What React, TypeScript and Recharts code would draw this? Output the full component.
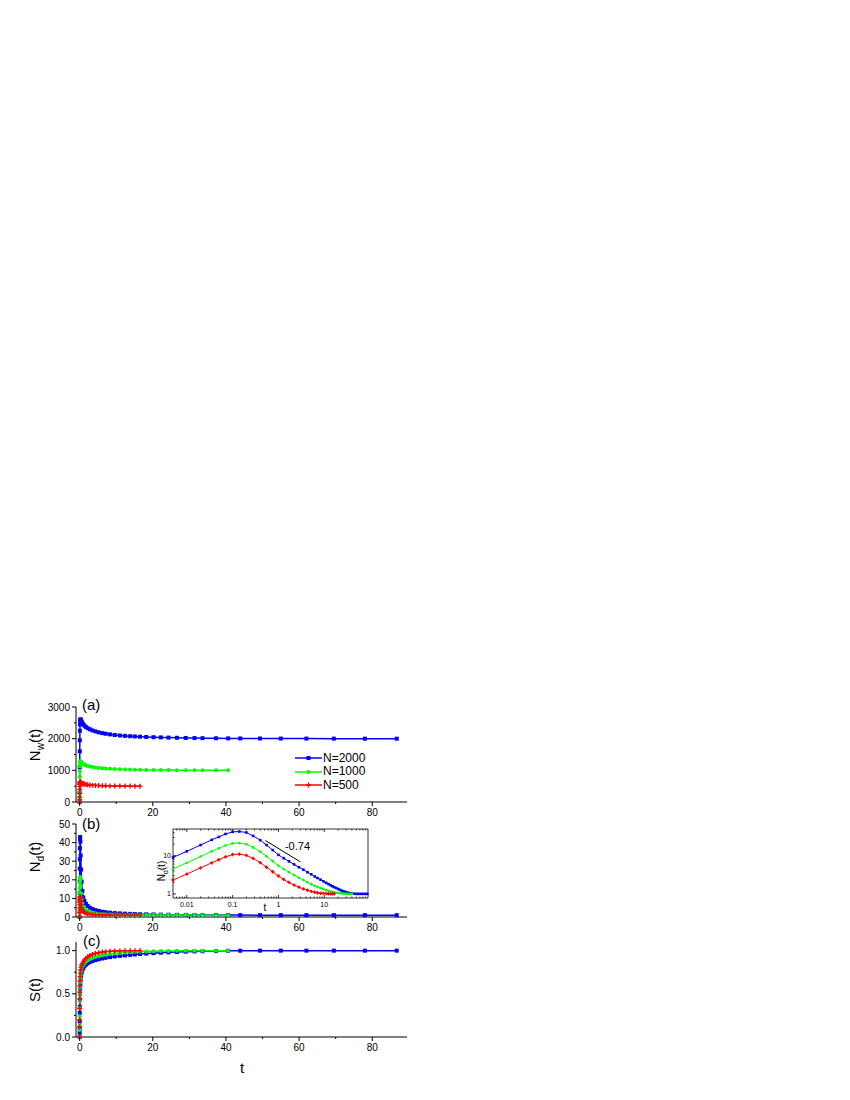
import React from "react";
import { Legend, Line, LineChart, ReferenceDot, ReferenceLine, XAxis, YAxis } from "recharts";

const FONT = "'Liberation Sans', Arial, sans-serif";

// shared sampling times
const T = [0, 0.005, 0.01, 0.02, 0.035, 0.05, 0.07, 0.1, 0.14, 0.2, 0.28, 0.4, 0.55, 0.75, 1, 1.3, 1.7, 2.2, 2.8, 3.5, 4.3, 5.2, 6.2, 7.1, 8.3, 9.6, 11, 12.4, 13.8, 15.1, 16.5, 18.2, 20.2, 22.2, 24.3, 26.6, 29, 31.4, 33.6, 37.3, 40.6, 43.9, 49.3, 55, 62, 69.5, 78, 86.7];

// (a) N_w(t)
const NW_2000 = [0, 300, 600, 1100, 1600, 1950, 2250, 2450, 2570, 2610, 2600, 2570, 2530, 2490, 2450, 2410, 2370, 2330, 2295, 2260, 2230, 2200, 2175, 2155, 2135, 2115, 2100, 2088, 2078, 2070, 2062, 2054, 2046, 2040, 2034, 2028, 2023, 2019, 2016, 2012, 2009, 2007, 2005, 2003, 2002, 2001, 2000, 2000];
const NW_1000 = [0, 150, 300, 550, 800, 980, 1120, 1220, 1275, 1290, 1280, 1260, 1240, 1220, 1200, 1180, 1160, 1140, 1122, 1105, 1090, 1077, 1066, 1058, 1050, 1042, 1035, 1030, 1025, 1021, 1018, 1014, 1011, 1009, 1007, 1005, 1004, 1003, 1002, 1001, 1000];
const NW_500 = [0, 75, 150, 275, 400, 490, 560, 605, 625, 630, 622, 610, 597, 585, 575, 565, 555, 546, 538, 531, 525, 520, 515, 512, 509, 506, 504, 503, 502, 501, 500];

// (b) N_d(t)
const ND_2000 = [0, 9, 13, 19, 26, 31, 37, 42, 43, 40.5, 33, 25.5, 19, 14, 10.5, 8.6, 7.1, 5.9, 5, 4.3, 3.7, 3.25, 2.85, 2.6, 2.35, 2.12, 1.95, 1.8, 1.68, 1.58, 1.5, 1.42, 1.34, 1.27, 1.21, 1.16, 1.12, 1.09, 1.06, 1.04, 1.02, 1.01, 1, 1, 1, 1, 1, 1];
const ND_1000 = [0, 4.5, 6.5, 9.5, 13, 15.5, 18.5, 21, 21.5, 20, 16.5, 12.8, 9.6, 7.2, 5.5, 4.5, 3.7, 3.1, 2.65, 2.3, 2.02, 1.8, 1.63, 1.52, 1.42, 1.33, 1.26, 1.2, 1.16, 1.12, 1.1, 1.07, 1.05, 1.04, 1.03, 1.02, 1.01, 1.01, 1, 1, 1];
const ND_500 = [0, 2.3, 3.3, 4.8, 6.5, 7.8, 9.3, 10.7, 11, 10.2, 8.5, 6.6, 5, 3.8, 2.95, 2.4, 2, 1.7, 1.5, 1.35, 1.24, 1.16, 1.1, 1.07, 1.04, 1.03, 1.02, 1.01, 1, 1, 1];

// (c) S(t)
const S_2000 = [0, 0.05, 0.1, 0.18, 0.28, 0.35, 0.43, 0.5, 0.56, 0.62, 0.67, 0.71, 0.745, 0.775, 0.8, 0.82, 0.838, 0.853, 0.867, 0.879, 0.89, 0.9, 0.909, 0.917, 0.925, 0.932, 0.939, 0.945, 0.951, 0.956, 0.961, 0.966, 0.971, 0.976, 0.98, 0.984, 0.988, 0.991, 0.993, 0.996, 0.998, 0.999, 1, 1, 1, 1, 1, 1];
const S_1000 = [0, 0.08, 0.14, 0.24, 0.34, 0.42, 0.5, 0.57, 0.63, 0.68, 0.72, 0.76, 0.79, 0.815, 0.835, 0.855, 0.872, 0.888, 0.902, 0.915, 0.927, 0.937, 0.946, 0.953, 0.96, 0.966, 0.972, 0.977, 0.981, 0.985, 0.988, 0.991, 0.994, 0.996, 0.997, 0.998, 0.999, 1, 1, 1, 1];
const S_500 = [0, 0.12, 0.2, 0.33, 0.44, 0.52, 0.59, 0.65, 0.7, 0.74, 0.775, 0.805, 0.83, 0.85, 0.87, 0.89, 0.91, 0.928, 0.943, 0.956, 0.967, 0.976, 0.983, 0.988, 0.992, 0.995, 0.997, 0.998, 0.999, 1, 1];

// axis ticks
const X_TICKS = [0, 10, 20, 30, 40, 50, 60, 70, 80];
const NW_TICKS = [0, 500, 1000, 1500, 2000, 2500, 3000];
const ND_TICKS = [0, 5, 10, 15, 20, 25, 30, 35, 40, 45, 50];
const S_TICKS = [0, 0.25, 0.5, 0.75, 1];
const INSET_X_TICKS = [0.006, 0.007, 0.008, 0.009, 0.01, 0.02, 0.03, 0.04, 0.05, 0.06, 0.07, 0.08, 0.09, 0.1, 0.2, 0.3, 0.4, 0.5, 0.6, 0.7, 0.8, 0.9, 1, 2, 3, 4, 5, 6, 7, 8, 9, 10, 20, 30, 40, 50, 60, 70, 80];
const INSET_X_MAJOR = [0.01, 0.1, 1, 10];
const INSET_Y_TICKS = [1, 2, 3, 4, 5, 6, 7, 8, 9, 10, 20, 30, 40];
const INSET_Y_MAJOR = [1, 10];

// slope guide in the inset
const SLOPE_SEG = [{ x: 0.52, y: 25 }, { x: 3, y: 6.9 }];
const SLOPE_TEXT = { x: 2.6, y: 17.5, value: "-0.74" };

const SERIES = [
  { key: "n2000", name: "N=2000", color: "#0000ff", shape: "square" },
  { key: "n1000", name: "N=1000", color: "#00ff00", shape: "circle" },
  { key: "n500", name: "N=500", color: "#ff0000", shape: "plus" },
];

const rows = (a: number[], b: number[], c: number[]) =>
  T.map((t, i) => ({ t, n2000: a[i], n1000: b[i], n500: c[i] }));

const nwData = rows(NW_2000, NW_1000, NW_500);
const ndData = rows(ND_2000, ND_1000, ND_500);
const sData = rows(S_2000, S_1000, S_500);
const insetData = ndData.filter((d) => d.t > 0);

function Marker({ cx, cy, shape, color, size }: any) {
  if (cx == null || cy == null) return null;
  const h = size / 2;
  if (shape === "square") return <rect x={cx - h} y={cy - h} width={size} height={size} fill={color} />;
  if (shape === "circle") return <circle cx={cx} cy={cy} r={h} fill={color} />;
  return <path d={`M${cx - h},${cy}H${cx + h}M${cx},${cy - h}V${cy + h}`} stroke={color} strokeWidth={1.4} fill="none" />;
}

const seriesLines = (small: boolean) =>
  SERIES.map((s) => (
    <Line
      key={s.key}
      type="linear"
      dataKey={s.key}
      name={s.name}
      stroke={s.color}
      strokeWidth={small ? 1 : 1.5}
      isAnimationActive={false}
      activeDot={false}
      dot={(p: any) => (
        <Marker
          key={`${s.key}-${p.index}`}
          cx={p.cx}
          cy={p.cy}
          shape={s.shape}
          color={s.color}
          size={small ? (s.shape === "plus" ? 3.4 : 2.6) : s.shape === "plus" ? 5 : 4}
        />
      )}
    />
  ));

const MainXTick = (p: any) => {
  const v = p.payload.value;
  const major = v % 20 === 0;
  return (
    <g>
      <line x1={p.x} x2={p.x} y1={p.y} y2={p.y + (major ? 4 : 2)} stroke="#000" />
      {major && (
        <text x={p.x} y={p.y + 14} textAnchor="middle" fontSize={10} fontFamily={FONT} fill="#000">
          {v}
        </text>
      )}
    </g>
  );
};

const makeYTick = (isMajor: (v: number) => boolean, fmt: (v: number) => string) => (p: any) => {
  const v = p.payload.value;
  const major = isMajor(v);
  return (
    <g>
      <line x1={p.x - (major ? 4 : 2)} x2={p.x} y1={p.y} y2={p.y} stroke="#000" />
      {major && (
        <text x={p.x - 6} y={p.y + 3.5} textAnchor="end" fontSize={10} fontFamily={FONT} fill="#000">
          {fmt(v)}
        </text>
      )}
    </g>
  );
};

const InsetBottomTick = (p: any) => {
  const v = p.payload.value;
  const major = INSET_X_MAJOR.includes(v);
  return (
    <g>
      <line x1={p.x} x2={p.x} y1={p.y} y2={p.y - (major ? 3 : 1.5)} stroke="#000" strokeWidth={0.8} />
      {major && (
        <text x={p.x} y={p.y + 8.5} textAnchor="middle" fontSize={7} fontFamily={FONT} fill="#000">
          {String(v)}
        </text>
      )}
    </g>
  );
};
const InsetTopTick = (p: any) => {
  const major = INSET_X_MAJOR.includes(p.payload.value);
  return <line x1={p.x} x2={p.x} y1={p.y} y2={p.y + (major ? 3 : 1.5)} stroke="#000" strokeWidth={0.8} />;
};
const InsetLeftTick = (p: any) => {
  const v = p.payload.value;
  const major = INSET_Y_MAJOR.includes(v);
  return (
    <g>
      <line x1={p.x} x2={p.x + (major ? 3 : 1.5)} y1={p.y} y2={p.y} stroke="#000" strokeWidth={0.8} />
      {major && (
        <text x={p.x - 2} y={p.y + 2.5} textAnchor="end" fontSize={7} fontFamily={FONT} fill="#000">
          {String(v)}
        </text>
      )}
    </g>
  );
};
const InsetRightTick = (p: any) => {
  const major = INSET_Y_MAJOR.includes(p.payload.value);
  return <line x1={p.x} x2={p.x - (major ? 3 : 1.5)} y1={p.y} y2={p.y} stroke="#000" strokeWidth={0.8} />;
};

function VTitle({ x, y, main, sub, size }: any) {
  return (
    <text transform={`translate(${x},${y}) rotate(-90)`} textAnchor="middle" fontSize={size} fontFamily={FONT} fill="#000">
      {main}
      {sub ? (
        <>
          <tspan dy={size * 0.3} fontSize={size * 0.68}>{sub}</tspan>
          <tspan dy={-size * 0.3}>(t)</tspan>
        </>
      ) : (
        "(t)"
      )}
    </text>
  );
}

// y title, panel letter and (optionally) the x title "t"
function PanelDecor({ title, sub, titleY, letter, lx, ly, tx, ty, tsize }: any) {
  return (
    <g>
      <VTitle x={39.5} y={titleY} main={title} sub={sub} size={tsize ?? 15} />
      {letter && <text x={lx} y={ly} fontSize={15} fontFamily={FONT} fill="#000">{letter}</text>}
      {tx != null && (
        <text x={tx} y={ty} textAnchor="middle" fontSize={tsize ?? 15} fontFamily={FONT} fill="#000">t</text>
      )}
    </g>
  );
}

function InsetDecor() {
  return (
    <g>
      <VTitle x={25} y={51} main="N" sub="d" size={10} />
      <text x={125} y={90.5} textAnchor="middle" fontSize={10} fontFamily={FONT} fill="#000">t</text>
    </g>
  );
}

const LegendBox = () => (
  <div style={{ fontFamily: FONT, fontSize: 12, color: "#000" }}>
    {SERIES.map((s) => (
      <div key={s.key} style={{ display: "flex", alignItems: "center", height: 13.5 }}>
        <svg width={28} height={10} style={{ display: "block" }}>
          <line x1={0} x2={27} y1={5} y2={5} stroke={s.color} strokeWidth={1.5} />
          <Marker cx={13.5} cy={5} shape={s.shape} color={s.color} size={s.shape === "plus" ? 5 : 4} />
        </svg>
        <span style={{ lineHeight: "13.5px" }}>{s.name}</span>
      </div>
    ))}
  </div>
);

const axisLine = { stroke: "#000", strokeWidth: 1 };

const mainX = (height: number) => (
  <XAxis
    dataKey="t"
    type="number"
    domain={[-1, 89.5]}
    ticks={X_TICKS}
    interval={0}
    tickSize={0}
    tickMargin={0}
    tickLine={false}
    axisLine={axisLine}
    tick={MainXTick}
    height={height}
  />
);

export default function App() {
  return (
    <div style={{ position: "absolute", left: 0, top: 0, width: 850, height: 1100, fontFamily: FONT }}>
      {/* (a) */}
      <div style={{ position: "absolute", left: 0, top: 690 }}>
        <LineChart width={430} height={132} data={nwData} margin={{ top: 17, right: 23, bottom: 0, left: 26 }}>
          {mainX(20)}
          <YAxis
            type="number"
            domain={[0, 3000]}
            ticks={NW_TICKS}
            interval={0}
            width={50}
            tickSize={0}
            tickMargin={0}
            tickLine={false}
            axisLine={axisLine}
            tick={makeYTick((v) => v % 1000 === 0, (v) => String(v))}
            label={<PanelDecor title="N" sub="w" titleY={55} letter="(a)" lx={82} ly={20} />}
          />
          {seriesLines(false)}
          <Legend
            layout="vertical"
            align="center"
            verticalAlign="middle"
            content={<LegendBox />}
            wrapperStyle={{ left: 295, top: 61.5, width: 110 }}
          />
        </LineChart>
      </div>

      {/* (b) */}
      <div style={{ position: "absolute", left: 0, top: 812 }}>
        <LineChart width={430} height={125} data={ndData} margin={{ top: 12, right: 23, bottom: 0, left: 26 }}>
          {mainX(20)}
          <YAxis
            type="number"
            domain={[0, 50]}
            ticks={ND_TICKS}
            interval={0}
            width={50}
            tickSize={0}
            tickMargin={0}
            tickLine={false}
            axisLine={axisLine}
            tick={makeYTick((v) => v % 10 === 0, (v) => String(v))}
            label={<PanelDecor title="N" sub="d" titleY={45} letter="(b)" lx={82} ly={17} />}
          />
          {seriesLines(false)}
        </LineChart>
      </div>

      {/* (c) */}
      <div style={{ position: "absolute", left: 0, top: 930 }}>
        <LineChart width={430} height={147} data={sData} margin={{ top: 12, right: 23, bottom: 0, left: 26 }}>
          {mainX(40)}
          <YAxis
            type="number"
            domain={[0, 1.1]}
            ticks={S_TICKS}
            interval={0}
            width={50}
            tickSize={0}
            tickMargin={0}
            tickLine={false}
            axisLine={axisLine}
            tick={makeYTick((v) => (v * 2) % 1 === 0, (v) => v.toFixed(1))}
            label={<PanelDecor title="S" titleY={60} letter="(c)" lx={83} ly={16} tx={242} ty={143} />}
          />
          {seriesLines(false)}
        </LineChart>
      </div>

      {/* inset of (b): log-log */}
      <div style={{ position: "absolute", left: 140, top: 820 }}>
        <LineChart width={240} height={100} data={insetData} margin={{ top: 5, right: 8, bottom: 8, left: 0 }}>
          <XAxis
            dataKey="t"
            type="number"
            scale="log"
            domain={[0.005, 90]}
            ticks={INSET_X_TICKS}
            interval={0}
            tickSize={0}
            tickMargin={0}
            tickLine={false}
            axisLine={{ stroke: "#000", strokeWidth: 0.8 }}
            tick={InsetBottomTick}
            height={14}
          />
          <XAxis
            xAxisId="top"
            orientation="top"
            dataKey="t"
            type="number"
            scale="log"
            domain={[0.005, 90]}
            ticks={INSET_X_TICKS}
            interval={0}
            tickSize={0}
            tickMargin={0}
            tickLine={false}
            axisLine={{ stroke: "#000", strokeWidth: 0.8 }}
            tick={InsetTopTick}
            height={4}
          />
          <YAxis
            type="number"
            scale="log"
            domain={[0.78, 50]}
            ticks={INSET_Y_TICKS}
            interval={0}
            width={33}
            tickSize={0}
            tickMargin={0}
            tickLine={false}
            axisLine={{ stroke: "#000", strokeWidth: 0.8 }}
            tick={InsetLeftTick}
            label={<InsetDecor />}
          />
          <YAxis
            yAxisId="right"
            orientation="right"
            type="number"
            scale="log"
            domain={[0.78, 50]}
            ticks={INSET_Y_TICKS}
            interval={0}
            width={4}
            tickSize={0}
            tickMargin={0}
            tickLine={false}
            axisLine={{ stroke: "#000", strokeWidth: 0.8 }}
            tick={InsetRightTick}
          />
          {seriesLines(true)}
          <ReferenceLine segment={SLOPE_SEG} stroke="#000" strokeWidth={1} ifOverflow="visible" />
          <ReferenceDot
            x={SLOPE_TEXT.x}
            y={SLOPE_TEXT.y}
            r={0}
            fill="none"
            stroke="none"
            ifOverflow="visible"
            label={{ value: SLOPE_TEXT.value, position: "center", fontSize: 11, fill: "#000", fontFamily: FONT }}
          />
        </LineChart>
      </div>
    </div>
  );
}
